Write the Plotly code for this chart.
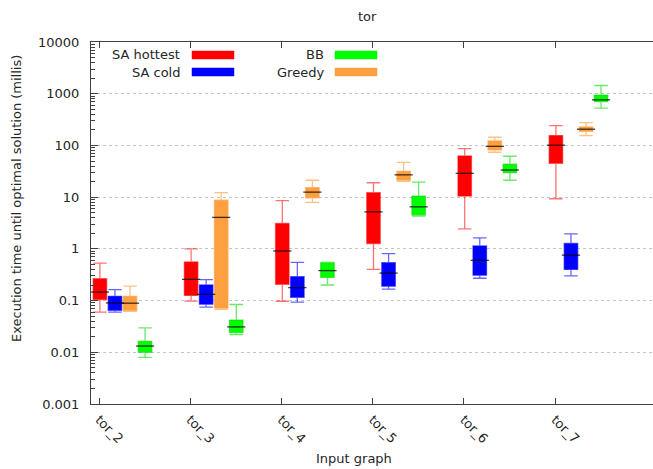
import plotly.graph_objects as go

# ---------------- data ----------------
categories = ["tor_2", "tor_3", "tor_4", "tor_5", "tor_6", "tor_7"]

hot_lo  = [0.060, 0.098, 0.097, 0.40, 2.44, 9.3]
hot_q1  = [0.105, 0.126, 0.206, 1.27, 10.5, 45]
hot_med = [0.146, 0.257, 0.91, 5.2, 28.9, 101]
hot_q3  = [0.265, 0.56, 3.1, 12.2, 62.6, 155]
hot_hi  = [0.53, 1.0, 8.6, 19, 86.7, 242]

cold_lo  = [0.060, 0.075, 0.093, 0.166, 0.27, 0.30]
cold_q1  = [0.065, 0.085, 0.116, 0.19, 0.31, 0.40]
cold_med = [0.090, 0.132, 0.178, 0.34, 0.60, 0.755]
cold_q3  = [0.121, 0.20, 0.29, 0.54, 1.14, 1.27]
cold_hi  = [0.163, 0.253, 0.55, 0.81, 1.63, 1.95]

greedy_lo  = [0.062, 0.068, 7.9, 20.2, 73.8, 155]
greedy_q1  = [0.064, 0.072, 9.7, 21.4, 81.8, 188]
greedy_med = [0.089, 4.06, 12.5, 27, 96, 206]
greedy_q3  = [0.121, 8.7, 15.3, 31.6, 122, 228]
greedy_hi  = [0.191, 12.2, 21.2, 47, 144, 277]

bb_lo  = [0.0080, 0.022, 0.20, 4.3, 21.2, 526]
bb_q1  = [0.0100, 0.024, 0.28, 4.56, 29.7, 706]
bb_med = [0.0132, 0.031, 0.38, 6.5, 33.5, 762]
bb_q3  = [0.0163, 0.042, 0.54, 10.5, 43.3, 940]
bb_hi  = [0.0297, 0.084, 0.55, 19.6, 61.8, 1440]

y_tickvals = [0.001, 0.01, 0.1, 1, 10, 100, 1000, 10000]
y_ticktext = ["0.001", "0.01", "0.1", "1", "10", "100", "1000", "10000"]

# ---------------- styling ----------------
W, H = 653, 469
ML, MR, MT, MB = 91, 0, 42, 65
FONT = "DejaVu Sans"
TXT = "#262626"

series = [
    # name, lo, q1, med, q3, hi, fill, line, offset
    ("SA hottest", hot_lo, hot_q1, hot_med, hot_q3, hot_hi, "#ff0000", "rgba(255,0,0,0.55)", 0.01),
    ("SA cold", cold_lo, cold_q1, cold_med, cold_q3, cold_hi, "#0000ff", "rgba(0,0,255,0.6)", 0.175),
    ("Greedy", greedy_lo, greedy_q1, greedy_med, greedy_q3, greedy_hi, "#ffa040", "rgba(255,160,64,0.65)", 0.34),
    ("BB", bb_lo, bb_q1, bb_med, bb_q3, bb_hi, "#00ff00", "rgba(0,220,0,0.6)", 0.505),
]
BOXW = 0.148

fig = go.Figure()
positions = list(range(1, len(categories) + 1))
for name, lo, q1, med, q3, hi, fill, line, off in series:
    xs = [p + off for p in positions]
    fig.add_trace(go.Box(
        name=name, x=xs, q1=q1, median=med, q3=q3,
        lowerfence=lo, upperfence=hi,
        width=BOXW, whiskerwidth=1.0,
        fillcolor=fill, line=dict(color=line, width=1.3),
        boxpoints=False, showlegend=False, hoverinfo="skip",
    ))
    fig.add_trace(go.Scatter(
        x=xs, y=med, mode="markers", showlegend=False, hoverinfo="skip",
        marker=dict(symbol="line-ew", size=13,
                    line=dict(color="rgba(0,0,0,0.75)", width=1.3)),
    ))

# ---------------- helpers for decorations in pixel space ----------------
PW, PH = W - ML - MR, H - MT - MB
def px(xpix):
    return (xpix - ML) / PW
def py(ypix):
    return (H - MB - ypix) / PH

annotations = []
shapes = []

# legend (gnuplot style: text right-aligned, swatch on the right)
legend_items = [
    ("SA hottest", "#ff0000", 182, 55, 192, 234),
    ("SA cold", "#0000ff", 182, 72, 192, 234),
    ("BB", "#00ff00", 326, 55, 335, 377),
    ("Greedy", "#ffa040", 326, 72, 335, 377),
]
for txt, col, tx, ty, sx0, sx1 in legend_items:
    annotations.append(dict(text=txt, xref="paper", yref="paper", x=px(tx), y=py(ty),
                            xanchor="right", yanchor="middle", showarrow=False,
                            font=dict(family=FONT, size=13, color=TXT)))
    shapes.append(dict(type="rect", xref="paper", yref="paper",
                       x0=px(sx0), x1=px(sx1), y0=py(ty + 4), y1=py(ty - 4),
                       fillcolor=col, line=dict(color=col, width=0.5)))

# title, axis labels
annotations.append(dict(text="tor", xref="paper", yref="paper", x=px(367), y=py(16),
                        xanchor="center", yanchor="middle", showarrow=False,
                        font=dict(family=FONT, size=13, color=TXT)))
annotations.append(dict(text="Input graph", xref="paper", yref="paper", x=px(354), y=py(459),
                        xanchor="center", yanchor="middle", showarrow=False,
                        font=dict(family=FONT, size=13, color=TXT)))
annotations.append(dict(text="Execution time until optimal solution (millis)",
                        xref="paper", yref="paper", x=px(17), y=py(199), textangle=-90,
                        xanchor="center", yanchor="middle", showarrow=False,
                        font=dict(family=FONT, size=13, color=TXT)))

x_lo = 1 - 8 / 91.2
x_hi = 1 + (W - MR - 99) / 91.2

minor_vals = [m * 10.0 ** e for e in range(-3, 4) for m in range(2, 10)]

fig.update_layout(
    width=W, height=H,
    margin=dict(l=ML, r=MR, t=MT, b=MB, pad=0),
    paper_bgcolor="white", plot_bgcolor="white",
    boxmode="overlay",
    showlegend=False,
    font=dict(family=FONT, size=13, color=TXT),
    annotations=annotations, shapes=shapes,
    xaxis=dict(
        range=[x_lo, x_hi], tickvals=positions, ticktext=categories,
        tickangle=45, ticks="inside", ticklen=6, tickcolor="#404040",
        showline=True, linecolor="#404040", linewidth=1, mirror="ticks",
        showgrid=False, zeroline=False, ticklabelstandoff=2,
        tickfont=dict(family=FONT, size=13, color=TXT),
    ),
    yaxis=dict(
        type="log", range=[-3, 4],
        tickmode="array", tickvals=y_tickvals, ticktext=y_ticktext,
        ticks="inside", ticklen=7, tickcolor="#404040",
        showline=True, linecolor="#404040", linewidth=1, mirror=False,
        showgrid=True, gridcolor="#c4c4c4", griddash="dot", gridwidth=1,
        zeroline=False, ticklabelstandoff=8,
        minor=dict(tickmode="array", tickvals=minor_vals, ticks="inside", ticklen=4,
                   tickcolor="#404040", showgrid=False),
        tickfont=dict(family=FONT, size=13, color=TXT),
    ),
)

fig.write_html("out.html", config={"displayModeBar": False},
               post_script="document.body.style.margin='0px';document.body.style.overflow='hidden';")
